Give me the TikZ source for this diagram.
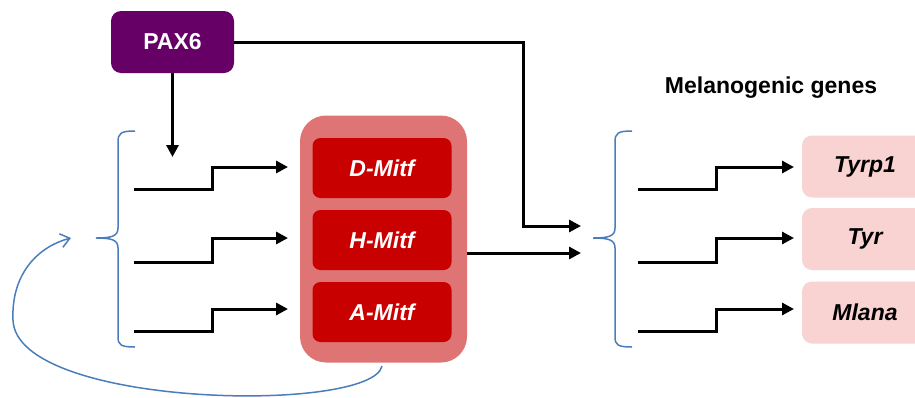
\documentclass[tikz,border=0pt]{standalone}
\usepackage{fontspec}
\setmainfont{Liberation Sans}
\usetikzlibrary{arrows.meta}
\definecolor{paxc}{HTML}{660066}
\definecolor{outerc}{HTML}{DE7474}
\definecolor{innerc}{HTML}{C80000}
\definecolor{genec}{HTML}{F9D2D2}
\definecolor{bluec}{HTML}{4A7EBB}
\tikzset{
  paxbox/.style={fill=paxc, rounded corners=10pt, minimum width=123pt, minimum height=62pt, text=white, font=\fontsize{23}{27}\selectfont\bfseries},
  outerbox/.style={fill=outerc, rounded corners=26pt, minimum width=167pt, minimum height=247pt},
  mitfbox/.style={fill=innerc, rounded corners=8pt, minimum width=139pt, minimum height=60pt, text=white, font=\fontsize{23}{27}\selectfont\bfseries\itshape},
  genebox/.style={fill=genec, rounded corners=10pt, minimum width=126pt, minimum height=62pt, text=black, font=\fontsize{23}{27}\selectfont\bfseries\itshape},
  arr/.style={line width=3pt, -{Triangle[length=12pt,width=12pt]}},
  promo/.style={line width=3pt, -{Triangle[length=12pt,width=12pt]}},
  bracel/.style={draw=bluec, line width=1.5pt},
}
\begin{document}
\begin{tikzpicture}[x=1pt,y=-1pt]
\useasboundingbox (0,0) rectangle (915,397);
% boxes
\node[paxbox] (pax) at (172.5,42) {PAX6};
\node[outerbox] (mitf) at (383.5,239) {};
\node[mitfbox] (dm) at (382,168) {D-Mitf};
\node[mitfbox] (hm) at (382,240) {H-Mitf};
\node[mitfbox] (am) at (382,312) {A-Mitf};
\node[genebox] (t1) at (865,166.5) {Tyrp1};
\node[genebox] (ty) at (865,239) {Tyr};
\node[genebox] (ml) at (865,312.5) {Mlana};
\node[font=\fontsize{23}{27}\selectfont\bfseries] (mg) at (771,88) {Melanogenic genes};
% braces
\draw[bracel] (135,131) .. controls (121,131) and (118,133) .. (118,142) -- (118,228)
  .. controls (118,236) and (112,238) .. (96,238)
  .. controls (112,238) and (118,240) .. (118,248) -- (118,337)
  .. controls (118,345) and (121,347) .. (135,347);
\draw[bracel] (632,131) .. controls (618,131) and (615,133) .. (615,142) -- (615,228)
  .. controls (615,236) and (609,238) .. (593,238)
  .. controls (609,238) and (615,240) .. (615,248) -- (615,337)
  .. controls (615,345) and (618,347) .. (632,347);
% promoters left and right
\foreach \n/\ya/\yb in {1/189/167, 2/262/238, 3/331/309}{
  \coordinate (ls\n) at (134,\ya);
  \coordinate (le\n) at (288,\yb);
  \draw[promo] (ls\n) -| (212,\yb) -- (le\n);
  \coordinate (rs\n) at (638,\ya);
  \coordinate (re\n) at (794,\yb);
  \draw[promo] (rs\n) -| (716,\yb) -- (re\n);
}
% PAX6 arrows
\coordinate (paxdown) at (172.5,157);
\draw[arr] (pax.south) -- (paxdown);
\coordinate (bend) at (523,226);
\coordinate (tgt1) at (581,226);
\draw[arr] (pax.east) -| (bend) -- (tgt1);
\coordinate (tgt2) at (581,253);
\draw[arr] ([yshift=-14pt]mitf.east) -- (tgt2);
% feedback loop
\coordinate (fbend) at (71,238);
\draw[bluec, line width=1.5pt, -{Straight Barb[length=9pt,width=14pt,line width=1.5pt]}]
  (382,366) .. controls (372,414) and (16,408) .. (13,320)
  .. controls (11,272) and (40,246) .. (fbend);
\end{tikzpicture}
\end{document}
